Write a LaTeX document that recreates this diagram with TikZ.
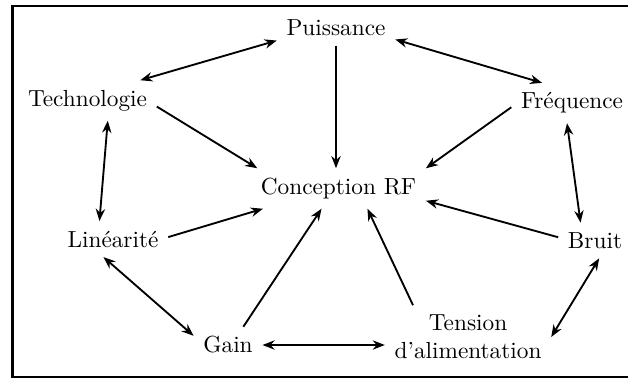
\documentclass[tikz,border=0pt]{standalone}
\usetikzlibrary{arrows.meta}
\tikzset{>={Stealth[length=5.2pt, width=4pt]}}
\tikzset{
    facteur/.style={inner sep=4pt},
    lien/.style={thick, ->},
    lien2/.style={thick, <->}
}

\begin{document}
\begin{tikzpicture}
    \useasboundingbox (0, 0) rectangle (9.48, 5.721);
    \draw[very thick](0.189, 0.030) rectangle (9.75, 5.631);
    \node[facteur] (puis) at (5.072, 5.299) {Puissance};
    \node[facteur] (techno) at (1.321, 4.204) {Technologie};
    \node[facteur] (freq) at (8.635, 4.166) {Fréquence};
    \node[facteur] (rf) at (5.110, 2.876) {Conception RF};
    \node[facteur] (lin) at (1.706, 2.113) {Linéarité};
    \node[facteur] (bruit) at (8.982, 2.091) {Bruit};
    \node[facteur] (gain) at (3.442, 0.513) {Gain};
    \node[facteur, align=center] (tension) at (7.065, 0.634) {Tension\\d'alimentation};
    % vers la conception
    \draw[lien](puis.south)--(puis.south |- rf.north);
    \draw[lien](techno.-5)--(rf.166);
    \draw[lien](freq.184)--(rf.13);
    \draw[lien](lin.2)--(rf.195);
    \draw[lien](bruit.175)--(rf.-8);
    \draw[lien](gain.50)--(rf.-130);
    \draw[lien](tension.150)--(rf.-35);
    % autour
    \draw[lien2](techno.21)--(puis.192);
    \draw[lien2](puis.-11)--(freq.146);
    \draw[lien2](techno.-45)--(lin.127);
    \draw[lien2](freq.-104)--(bruit.129);
    \draw[lien2](lin.-118)--(gain.165);
    \draw[lien2](gain.east)--(gain.east -| tension.west);
    \draw[lien2](bruit.-77)--(tension.east);
\end{tikzpicture}
\end{document}
